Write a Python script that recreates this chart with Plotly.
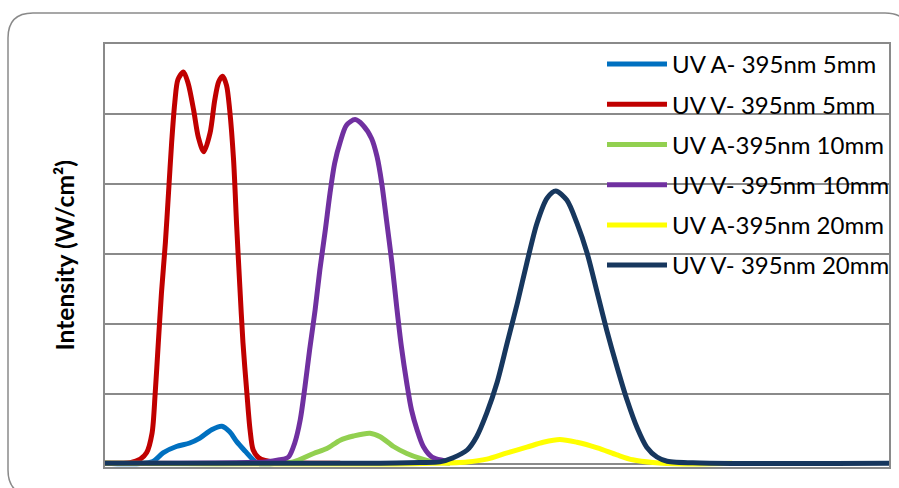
import plotly.graph_objects as go

# x: relative position (0-100, arbitrary units; chart has no x labels)
# y: intensity (arbitrary units; chart has no tick labels)
names = ["UV A- 395nm 5mm", "UV V- 395nm 5mm", "UV A-395nm 10mm",
         "UV V- 395nm 10mm", "UV A-395nm 20mm", "UV V- 395nm 20mm"]
colors = ["#0070C0", "#C00000", "#92D050", "#7030A0", "#FFFF00", "#17375E"]

uva5_x = [0, 6.0, 7.4, 9.1, 10.8, 12.1, 13.6, 14.9, 15.9, 16.8, 17.9, 18.9, 19.5, 22.0]
uva5_y = [0.01, 0.03, 0.16, 0.25, 0.30, 0.37, 0.49, 0.54, 0.46, 0.32, 0.18, 0.06, 0.01, 0.01]

uvv5_x = [0, 3.2, 4.5, 5.3, 6.0, 6.4, 6.8, 7.2, 7.7, 8.1, 8.5, 8.9, 9.3, 10.0, 10.6,
          11.3, 11.9, 12.6, 13.4, 14.0, 14.5, 15.0, 15.5, 15.9, 16.4, 16.8, 17.2,
          17.6, 18.1, 18.5, 18.9, 19.6, 20.4, 22.3, 30.0]
uvv5_y = [0.01, 0.02, 0.07, 0.16, 0.44, 1.01, 1.73, 2.44, 3.16, 3.87, 4.59, 5.16, 5.49,
          5.60, 5.44, 5.06, 4.67, 4.46, 4.73, 5.20, 5.46, 5.54, 5.41, 5.06, 4.34,
          3.39, 2.53, 1.73, 1.01, 0.49, 0.20, 0.09, 0.05, 0.02, 0.01]

uva10_x = [0, 21.0, 24.0, 26.6, 28.3, 30.0, 31.7, 33.8, 35.1, 36.8, 38.5, 40.2, 41.9, 44.0]
uva10_y = [0.01, 0.01, 0.03, 0.15, 0.22, 0.34, 0.40, 0.44, 0.39, 0.25, 0.15, 0.08, 0.03, 0.01]

uvv10_x = [0, 20.4, 22.3, 23.4, 24.2, 24.9, 25.5, 26.1, 26.8, 27.4, 28.1, 28.7, 29.3,
           30.0, 30.8, 31.9, 32.9, 34.0, 34.7, 35.3, 35.9, 36.6, 37.2, 37.8, 38.5,
           39.1, 39.8, 40.6, 41.7, 43.1, 44.5]
uvv10_y = [0.01, 0.03, 0.06, 0.10, 0.30, 0.63, 1.10, 1.63, 2.20, 2.77, 3.34, 3.87, 4.30,
           4.60, 4.84, 4.92, 4.84, 4.65, 4.39, 4.01, 3.49, 2.87, 2.25, 1.68, 1.15,
           0.77, 0.49, 0.25, 0.10, 0.05, 0.02]

uva20_x = [0, 37.0, 41.8, 46.2, 48.7, 51.3, 53.8, 55.9, 58.0, 60.2, 62.8, 65.3, 67.3, 69.9, 73.7, 80.0]
uva20_y = [0.01, 0.0, 0.01, 0.03, 0.07, 0.16, 0.24, 0.31, 0.35, 0.31, 0.23, 0.13, 0.06, 0.02, 0.0, 0.01]

uvv20_x = [0, 24.9, 35.1, 40.2, 42.7, 44.4, 46.2, 47.4, 48.7, 50.0, 51.3, 52.6, 53.8,
           55.1, 56.4, 57.5, 58.9, 60.2, 61.5, 62.8, 64.0, 65.3, 66.6, 67.9, 69.1,
           70.4, 71.7, 75.9, 100]
uvv20_y = [0.01, 0.01, 0.01, 0.02, 0.03, 0.09, 0.20, 0.39, 0.73, 1.16, 1.73, 2.30, 2.87,
           3.44, 3.80, 3.90, 3.77, 3.44, 3.01, 2.44, 1.91, 1.39, 0.91, 0.51, 0.24,
           0.10, 0.04, 0.015, 0.01]

series_x = [uva5_x, uvv5_x, uva10_x, uvv10_x, uva20_x, uvv20_x]
series_y = [uva5_y, uvv5_y, uva10_y, uvv10_y, uva20_y, uvv20_y]

FONT = "Lato"
W, H = 899, 488
ML, MR, MT, MB = 105, 10, 44, 21

fig = go.Figure()
for i, (n, c, xs, ys) in enumerate(zip(names, colors, series_x, series_y)):
    fig.add_trace(go.Scatter(
        x=xs, y=ys, mode="lines", name=n, legendgroup=f"g{i}",
        line=dict(color=c, width=5, shape="spline", smoothing=0.8),
        hoverinfo="skip"))

pw = W - ML - MR
ph = H - MT - MB

def px(x):
    return (x - ML) / pw

def py(y):
    return (H - MB - y) / ph

# rounded outer frame
L, T, R, B, r = 8, 13, 910, 495, 25
path = (f"M {px(L + r)},{py(T)} L {px(R - r)},{py(T)} Q {px(R)},{py(T)} {px(R)},{py(T + r)} "
        f"L {px(R)},{py(B - r)} Q {px(R)},{py(B)} {px(R - r)},{py(B)} "
        f"L {px(L + r)},{py(B)} Q {px(L)},{py(B)} {px(L)},{py(B - r)} "
        f"L {px(L)},{py(T + r)} Q {px(L)},{py(T)} {px(L + r)},{py(T)} Z")
fig.add_shape(type="path", path=path, xref="paper", yref="paper",
              line=dict(color="#8a8a8a", width=1.5), layer="below")

fig.add_annotation(text="<b>Intensity (W/cm²)</b>", textangle=-90,
                   xref="paper", yref="paper", x=px(64), y=0.5,
                   xanchor="center", yanchor="middle", showarrow=False,
                   font=dict(family=FONT, size=24.6, color="#000000"))

fig.update_layout(
    width=W, height=H,
    margin=dict(l=ML, r=MR, t=MT, b=MB, autoexpand=False),
    paper_bgcolor="white", plot_bgcolor="white",
    showlegend=True,
    legend=dict(x=px(602), y=py(42), xanchor="left", yanchor="top",
                bgcolor="rgba(0,0,0,0)", borderwidth=0, maxheight=420,
                font=dict(family=FONT, size=24, color="#000000"),
                tracegroupgap=6, itemwidth=60),
    font=dict(family=FONT),
)
fig.update_xaxes(range=[0, 100], showgrid=False, zeroline=False,
                 showticklabels=False, ticks="", showline=True, mirror=True,
                 linecolor="#8a8a8a", linewidth=1.5, layer="below traces")
fig.update_yaxes(range=[-3 / 70, 6], dtick=1, tick0=0, showgrid=True,
                 gridcolor="#8a8a8a", gridwidth=1.5, zeroline=False,
                 showticklabels=False, ticks="", showline=True, mirror=True,
                 linecolor="#8a8a8a", linewidth=1.5, layer="below traces")

fig.write_html("out.html", config={"displayModeBar": False},
               post_script="document.body.style.margin='0';document.body.style.overflow='hidden';")
